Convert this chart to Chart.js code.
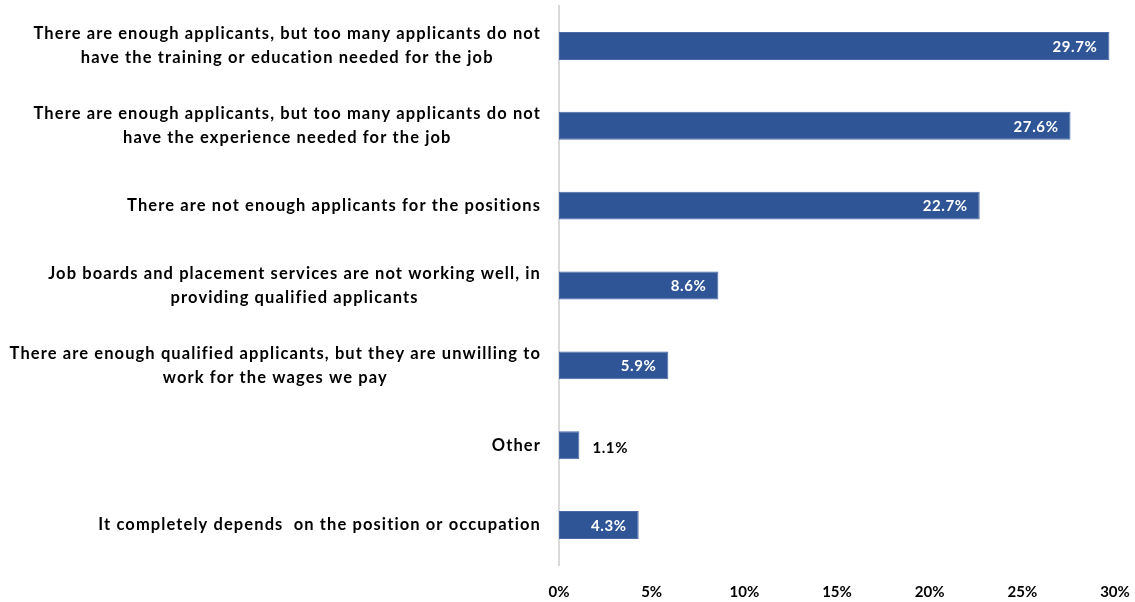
<!DOCTYPE html>
<html>
<head>
<meta charset="utf-8">
<script src="https://cdn.jsdelivr.net/npm/chart.js@4.4.1/dist/chart.umd.min.js"></script>
<style>
  html, body { margin: 0; padding: 0; background: #fff; }
  #wrap { width: 1135px; height: 602px; position: relative; }
</style>
</head>
<body>
<div id="wrap"><canvas id="reasonChart"></canvas></div>
<script>
// ===== データ =====
const reasonLabels = [
  ['There are enough applicants, but too many applicants do not', 'have the training or education needed for the job'],
  ['There are enough applicants, but too many applicants do not', 'have the experience needed for the job'],
  ['There are not enough applicants for the positions'],
  ['Job boards and placement services are not working well, in', 'providing qualified applicants'],
  ['There are enough qualified applicants, but they are unwilling to', 'work for the wages we pay'],
  ['Other'],
  ['It completely depends  on the position or occupation'],
];
const reasonValues = [29.7, 27.6, 22.7, 8.6, 5.9, 1.1, 4.3];
const xTicks = [0, 5, 10, 15, 20, 25, 30];

const FONT = 'Lato, "Open Sans", sans-serif';
const BAR_COLOR = '#2F5597';

// ===== カテゴリラベル（中央揃えの複数行、右端揃え） =====
const categoryLabelPlugin = {
  id: 'categoryLabels',
  afterDraw(chart) {
    const { ctx, scales: { y } } = chart;
    const right = chart.chartArea.left - 18;
    const lineH = 24;
    ctx.save();
    ctx.font = `bold 16.5px ${FONT}`;
    ctx.letterSpacing = '1.1px';
    ctx.fillStyle = '#000';
    ctx.textBaseline = 'middle';
    reasonLabels.forEach((lines, i) => {
      const cy = y.getPixelForValue(i);
      const widths = lines.map(l => ctx.measureText(l).width);
      const blockW = Math.max(...widths);
      const cx = right - blockW / 2;
      ctx.textAlign = 'center';
      lines.forEach((l, j) => {
        const ly = cy + (j - (lines.length - 1) / 2) * lineH;
        ctx.fillText(l, cx, ly);
      });
    });
    ctx.restore();
  }
};

// ===== 値ラベル（バー内の右端、入らなければ外側） =====
const valueLabelPlugin = {
  id: 'valueLabels',
  afterDatasetsDraw(chart) {
    const { ctx } = chart;
    const meta = chart.getDatasetMeta(0);
    ctx.save();
    ctx.font = `bold 15px ${FONT}`;
    ctx.letterSpacing = '0.6px';
    ctx.textBaseline = 'middle';
    meta.data.forEach((bar, i) => {
      const text = reasonValues[i].toFixed(1) + '%';
      const w = ctx.measureText(text).width;
      const barW = bar.x - bar.base;
      if (w + 24 <= barW) {
        ctx.fillStyle = '#fff';
        ctx.textAlign = 'right';
        ctx.fillText(text, bar.x - 12, bar.y + 1);
      } else {
        ctx.fillStyle = '#000';
        ctx.textAlign = 'left';
        ctx.fillText(text, bar.x + 13, bar.y + 3);
      }
    });
    ctx.restore();
  }
};

new Chart(document.getElementById('reasonChart'), {
  type: 'bar',
  data: {
    labels: reasonLabels.map(l => l.join(' ')),
    datasets: [{
      data: reasonValues,
      backgroundColor: BAR_COLOR,
      borderColor: '#4a6aa8',
      borderWidth: 1,
      borderSkipped: false,
      categoryPercentage: 0.7,
      barPercentage: 0.5,
    }]
  },
  options: {
    indexAxis: 'y',
    responsive: true,
    maintainAspectRatio: false,
    animation: false,
    layout: { padding: { left: 559, right: 20, top: 6, bottom: 2 } },
    plugins: { legend: { display: false }, tooltip: { enabled: false } },
    scales: {
      x: {
        min: xTicks[0],
        max: xTicks[xTicks.length - 1],
        afterBuildTicks: axis => { axis.ticks = xTicks.map(v => ({ value: v })); },
        afterFit: axis => {
          axis.height = 35;
          axis.paddingLeft = 0;
          axis.paddingRight = 0;
        },
        grid: { display: false, drawTicks: false },
        border: { display: false },
        ticks: {
          padding: 18,
          color: '#000',
          font: { family: FONT, size: 15, weight: 'bold' },
          callback: v => v + '%',
        }
      },
      y: {
        grid: { display: false, drawTicks: false },
        border: { display: true, color: '#d9d9d9', width: 2 },
        ticks: { display: false },
      }
    }
  },
  plugins: [categoryLabelPlugin, valueLabelPlugin]
});
</script>
</body>
</html>
